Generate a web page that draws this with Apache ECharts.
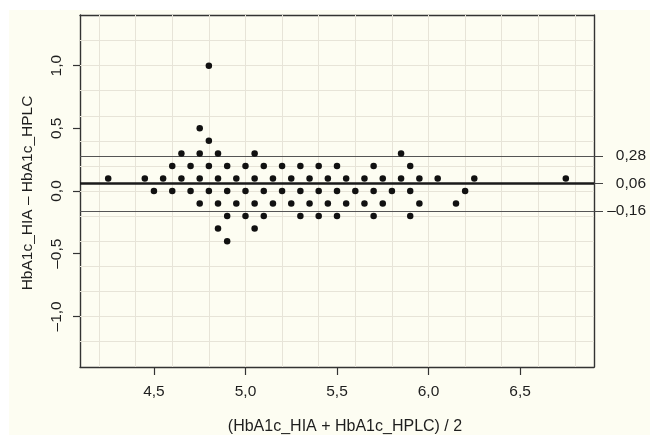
<!DOCTYPE html>
<html><head><meta charset="utf-8">
<script src="https://cdn.jsdelivr.net/npm/echarts@6/dist/echarts.min.js"></script>
<style>html,body{margin:0;padding:0;background:#fff}#c{width:650px;height:435px}</style>
</head><body><div id="c"></div>
<script>
// Bland-Altman data: mean of the two methods (x) and difference (y)
const meanValues = [
  4.8,
  4.75,
  4.8,
  4.65, 4.75, 4.85, 5.05, 5.85,
  4.6, 4.7, 4.8, 4.9, 5.0, 5.1, 5.2, 5.3, 5.4, 5.5, 5.7, 5.9,
  4.25, 4.45, 4.55, 4.65, 4.75, 4.85, 4.95, 5.05, 5.15, 5.25, 5.35, 5.45, 5.55, 5.65, 5.75, 5.85, 5.95, 6.05, 6.25, 6.75,
  4.5, 4.6, 4.7, 4.8, 4.9, 5.0, 5.1, 5.2, 5.3, 5.4, 5.5, 5.6, 5.7, 5.8, 5.9, 6.2,
  4.75, 4.85, 4.95, 5.05, 5.15, 5.25, 5.35, 5.45, 5.55, 5.65, 5.75, 5.95, 6.15,
  4.9, 5.0, 5.1, 5.3, 5.4, 5.5, 5.7, 5.9,
  4.85, 5.05,
  4.9
];
const diffValues = [
  1.0,
  0.5,
  0.4,
  0.3, 0.3, 0.3, 0.3, 0.3,
  0.2, 0.2, 0.2, 0.2, 0.2, 0.2, 0.2, 0.2, 0.2, 0.2, 0.2, 0.2,
  0.1, 0.1, 0.1, 0.1, 0.1, 0.1, 0.1, 0.1, 0.1, 0.1, 0.1, 0.1, 0.1, 0.1, 0.1, 0.1, 0.1, 0.1, 0.1, 0.1,
  0, 0, 0, 0, 0, 0, 0, 0, 0, 0, 0, 0, 0, 0, 0, 0,
  -0.1, -0.1, -0.1, -0.1, -0.1, -0.1, -0.1, -0.1, -0.1, -0.1, -0.1, -0.1, -0.1,
  -0.2, -0.2, -0.2, -0.2, -0.2, -0.2, -0.2, -0.2,
  -0.3, -0.3,
  -0.4
];
const limitValues = [0.28, 0.06, -0.16];
const limitLabels = ['0,28', '0,06', '\u20130,16'];
const xTickValues = [4.5, 5.0, 5.5, 6.0, 6.5];
const yTickValues = [-1.0, -0.5, 0.0, 0.5, 1.0];
const xGridValues = [4.2, 4.4, 4.6, 4.8, 5.0, 5.2, 5.4, 5.6, 5.8, 6.0, 6.2, 6.4, 6.6, 6.8];
const yGridValues = [-1.2, -1.0, -0.8, -0.6, -0.4, -0.2, 0.0, 0.2, 0.4, 0.6, 0.8, 1.0, 1.2];
const xTitle = '(HbA1c_HIA + HbA1c_HPLC) / 2';
const yTitle = 'HbA1c_HIA \u2013 HbA1c_HPLC';

const X_MIN = 4.096, X_MAX = 6.904, Y_MIN = -1.404, Y_MAX = 1.404;
const FONT = "'Liberation Sans', Arial, sans-serif";
const TXT = '#1e1e1e';
const fmt = v => (Math.abs(v) < 1e-9 ? '0,0' : (v < 0 ? '\u2013' : '') + Math.abs(v).toFixed(1).replace('.', ','));

const points = meanValues.map((m, i) => [m, diffValues[i]]);
const chart = echarts.init(document.getElementById('c'), null, {renderer: 'canvas'});
const axisLine = {show: true, onZero: false, lineStyle: {color: '#333', width: 1.4}};
chart.setOption({
  animation: false,
  backgroundColor: '#ffffff',
  graphic: [
    {type: 'rect', z: -10, shape: {x: 9, y: 10, width: 641, height: 425}, style: {fill: '#fdfdf2'}, silent: true},
    {type: 'text', x: 345, y: 427, style: {text: xTitle, x: 0, y: 0, font: '16px ' + FONT, fill: TXT, textAlign: 'center', textVerticalAlign: 'middle'}, silent: true},
    {type: 'text', x: 28, y: 193, rotation: Math.PI / 2, style: {text: yTitle, x: 0, y: 0, font: '15.5px ' + FONT, fill: TXT, textAlign: 'center', textVerticalAlign: 'middle'}, silent: true}
  ],
  grid: {left: 80, top: 15, width: 514, height: 352, containLabel: false},
  xAxis: [
    {type: 'value', position: 'bottom', min: X_MIN, max: X_MAX, axisLine,
      splitLine: {show: false},
      axisTick: {show: true, length: 8, customValues: xTickValues, lineStyle: {color: '#333', width: 1.2}},
      axisLabel: {show: true, customValues: xTickValues, margin: 17, formatter: fmt, fontFamily: FONT, fontSize: 15.5, color: TXT}},
    {type: 'value', position: 'top', min: X_MIN, max: X_MAX, axisLine,
      splitLine: {show: false}, axisTick: {show: false}, axisLabel: {show: false}}
  ],
  yAxis: [
    {type: 'value', position: 'left', min: Y_MIN, max: Y_MAX, axisLine,
      splitLine: {show: false},
      axisTick: {show: true, length: 7, customValues: yTickValues, lineStyle: {color: '#333', width: 1.2}},
      axisLabel: {show: true, customValues: yTickValues, rotate: 90, margin: 15, formatter: fmt, fontFamily: FONT, fontSize: 15.5, color: TXT}},
    {type: 'value', position: 'right', min: Y_MIN, max: Y_MAX, axisLine,
      splitLine: {show: false},
      axisTick: {show: true, length: 9, customValues: limitValues, lineStyle: {color: '#444', width: 1}},
      axisLabel: {show: true, customValues: limitValues, margin: 52, align: 'right',
        formatter: v => { const i = limitValues.findIndex(l => Math.abs(l - v) < 1e-6); return i >= 0 ? limitLabels[i] : ''; },
        fontFamily: FONT, fontSize: 15.5, color: TXT}}
  ],
  series: [
    {type: 'line', data: [], z: 1, silent: true,
      markLine: {silent: true, symbol: ['none', 'none'], label: {show: false},
        lineStyle: {color: '#e7e4d8', width: 1, type: 'solid'},
        data: xGridValues.map(v => ({xAxis: v})).concat(yGridValues.map(v => ({yAxis: v})))}},
    {type: 'line', data: [], z: 2, silent: true,
      markLine: {silent: true, symbol: ['none', 'none'], label: {show: false},
        data: limitValues.map((v, i) => ({yAxis: v, lineStyle: {color: i === 1 ? '#1a1a1a' : '#555', width: i === 1 ? 2.6 : 1, type: 'solid'}}))}},
    {type: 'scatter', data: points, z: 5, symbol: 'circle', symbolSize: 6.5,
      itemStyle: {color: '#111', opacity: 1}}
  ]
});
</script>
</body></html>
